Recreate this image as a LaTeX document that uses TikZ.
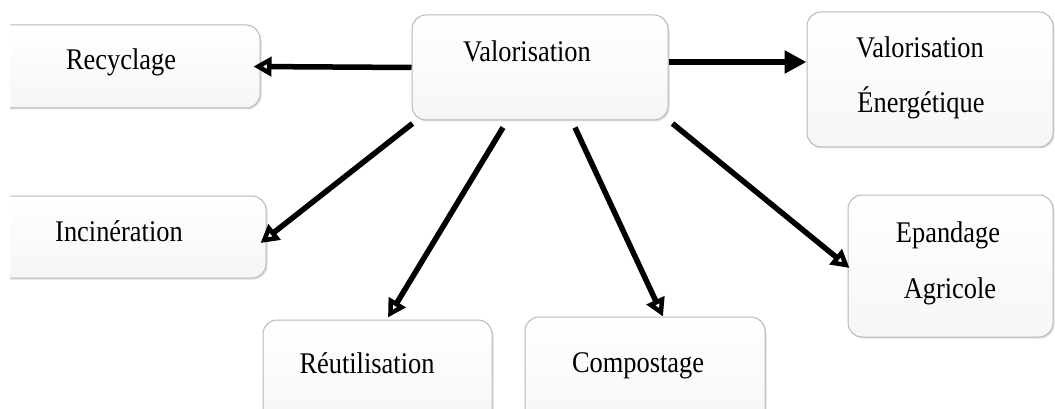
\documentclass[tikz,border=0pt]{standalone}
\usepackage{fontspec}
\setmainfont{Liberation Serif}[FakeStretch=0.88]
\usetikzlibrary{arrows.meta,shadows}

\begin{document}
\begin{tikzpicture}[x=1pt,y=-1pt,
	box/.style={rectangle, rounded corners=14pt, draw=gray!55, line width=1pt, top color=white, bottom color=gray!7, inner sep=0pt, drop shadow={shadow xshift=1.5pt, shadow yshift=-1.5pt, opacity=0.25}},
	txt/.style={anchor=base, inner sep=0pt, font=\fontsize{30}{36}\selectfont},
	arr/.style={-{Triangle[open, length=18pt, width=19pt]}, line width=5.5pt},
	arrfull/.style={-{Triangle[length=22pt, width=22pt]}, line width=5.5pt}]

	\useasboundingbox (0,0) rectangle (1055,409);
	\clip (10,-5) rectangle (1060,409);

	\node 	(v0)		at	(540,67.5) 	[box, minimum width=256pt, minimum height=105pt]{};
	\node 	(v1)		at	(120,66.5) 	[box, minimum width=280pt, minimum height=83pt]{};
	\node 	(v2)		at	(930,79.5) 	[box, minimum width=246pt, minimum height=135pt]{};
	\node 	(v3)		at	(123,237) 	[box, minimum width=286pt, minimum height=82pt]{};
	\node 	(v4)		at	(377.5,375) 	[box, minimum width=229pt, minimum height=110pt]{};
	\node 	(v5)		at	(645,372) 	[box, minimum width=240pt, minimum height=110pt]{};
	\node 	(v6)		at	(950.5,266) 	[box, minimum width=205pt, minimum height=142pt]{};

	\node 	(t0)		at	(527,62) 	[txt]{Valorisation};
	\node 	(t1)		at	(121,70) 	[txt]{Recyclage};
	\node 	(t2a)		at	(920,58) 	[txt]{Valorisation};
	\node 	(t2b)		at	(921,113) 	[txt]{Énergétique};
	\node 	(t3)		at	(119,241) 	[txt]{Incinération};
	\node 	(t4)		at	(367,373) 	[txt]{Réutilisation};
	\node 	(t5)		at	(638,372) 	[txt]{Compostage};
	\node 	(t6a)		at	(948,242) 	[txt]{Epandage};
	\node 	(t6b)		at	(950,298) 	[txt]{Agricole};

	\draw[arr]	(v0.west)	to	([xshift=-7pt]v1.east);
	\draw[arrfull]	([yshift=5.5pt]v0.east)	to	([yshift=17.5pt]v2.west);
	\draw[arr]	([xshift=1pt,yshift=-3pt]v0.south west)	to	([xshift=-6pt,yshift=-6pt]v3.east);
	\draw[arr]	([xshift=-37pt,yshift=-7pt]v0.south)	to	([xshift=10.5pt,yshift=2pt]v4.north);
	\draw[arr]	([xshift=35pt,yshift=-7pt]v0.south)	to	([xshift=18pt]v5.north);
	\draw[arr]	([xshift=4pt,yshift=-3pt]v0.south east)	to	([xshift=2pt,yshift=-2pt]v6.west);

\end{tikzpicture}
\end{document}
